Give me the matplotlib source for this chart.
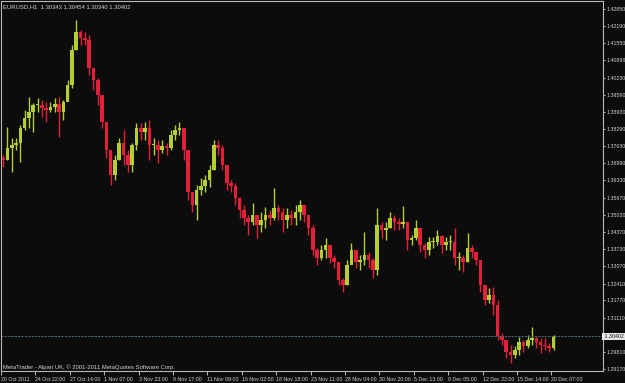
import matplotlib.pyplot as plt
import numpy as np

# EURUSD H1, one candle per 8 hours
first_open = 1.3719
highs = [1.3730, 1.3836, 1.3795, 1.3795, 1.3844, 1.3901, 1.3950, 1.3928, 1.3947, 1.3939,
         1.3931, 1.3931, 1.3947, 1.3950, 1.3939, 1.4015, 1.4148, 1.4243, 1.4205, 1.4197,
         1.4186, 1.4053, 1.4023, 1.3939, 1.3844, 1.3749, 1.3730, 1.3795, 1.3825, 1.3749,
         1.3776, 1.3852, 1.3852, 1.3855, 1.3863, 1.3795, 1.3787, 1.3787, 1.3776, 1.3825,
         1.3844, 1.3855, 1.3833, 1.3749, 1.3578, 1.3616, 1.3643, 1.3654, 1.3692, 1.3787,
         1.3787, 1.3768, 1.3692, 1.3635, 1.3624, 1.3570, 1.3540, 1.3502, 1.3548, 1.3502,
         1.3513, 1.3532, 1.3521, 1.3605, 1.3540, 1.3529, 1.3529, 1.3521, 1.3540, 1.3559,
         1.3540, 1.3491, 1.3464, 1.3377, 1.3388, 1.3415, 1.3369, 1.3350, 1.3323, 1.3263,
         1.3331, 1.3396, 1.3369, 1.3350, 1.3437, 1.3361, 1.3339, 1.3529, 1.3475, 1.3475,
         1.3513, 1.3502, 1.3491, 1.3536, 1.3464, 1.3426, 1.3483, 1.3426, 1.3396, 1.3418,
         1.3418, 1.3445, 1.3426, 1.3418, 1.3426, 1.3453, 1.3361, 1.3350, 1.3434, 1.3388,
         1.3361, 1.3323, 1.3236, 1.3225, 1.3228, 1.3179, 1.3054, 1.3027, 1.3008, 1.3004,
         1.3038, 1.3027, 1.3046, 1.3076, 1.3042, 1.3035, 1.3035, 1.3016, 1.3046]
lows = [1.3684, 1.3711, 1.3665, 1.3749, 1.3703, 1.3825, 1.3833, 1.3817, 1.3893, 1.3874,
        1.3855, 1.3893, 1.3893, 1.3798, 1.3863, 1.3939, 1.3985, 1.4129, 1.4148, 1.4148,
        1.4034, 1.3977, 1.3920, 1.3833, 1.3719, 1.3616, 1.3635, 1.3711, 1.3692, 1.3665,
        1.3665, 1.3749, 1.3787, 1.3787, 1.3711, 1.3730, 1.3700, 1.3738, 1.3730, 1.3749,
        1.3787, 1.3806, 1.3711, 1.3559, 1.3513, 1.3483, 1.3578, 1.3589, 1.3608, 1.3673,
        1.3730, 1.3673, 1.3597, 1.3589, 1.3540, 1.3491, 1.3464, 1.3426, 1.3464, 1.3415,
        1.3437, 1.3453, 1.3464, 1.3483, 1.3483, 1.3437, 1.3453, 1.3464, 1.3464, 1.3483,
        1.3475, 1.3426, 1.3350, 1.3312, 1.3331, 1.3339, 1.3320, 1.3301, 1.3236, 1.3209,
        1.3236, 1.3323, 1.3301, 1.3293, 1.3312, 1.3301, 1.3263, 1.3274, 1.3415, 1.3407,
        1.3453, 1.3445, 1.3445, 1.3453, 1.3369, 1.3388, 1.3407, 1.3361, 1.3339, 1.3350,
        1.3377, 1.3388, 1.3358, 1.3369, 1.3369, 1.3312, 1.3293, 1.3285, 1.3323, 1.3339,
        1.3312, 1.3209, 1.3160, 1.3168, 1.3122, 1.3027, 1.3008, 1.2959, 1.2940, 1.2959,
        1.2970, 1.2981, 1.2997, 1.3008, 1.2997, 1.2978, 1.2989, 1.2981, 1.2989]
closes = [1.3711, 1.3757, 1.3768, 1.3776, 1.3833, 1.3871, 1.3893, 1.3920, 1.3920, 1.3909,
          1.3901, 1.3912, 1.3924, 1.3893, 1.3931, 1.3996, 1.4129, 1.4197, 1.4175, 1.4167,
          1.4061, 1.4015, 1.3958, 1.3855, 1.3749, 1.3654, 1.3711, 1.3776, 1.3730, 1.3692,
          1.3768, 1.3833, 1.3817, 1.3833, 1.3768, 1.3768, 1.3749, 1.3764, 1.3757, 1.3806,
          1.3825, 1.3833, 1.3749, 1.3589, 1.3540, 1.3597, 1.3612, 1.3635, 1.3673, 1.3768,
          1.3757, 1.3692, 1.3624, 1.3612, 1.3567, 1.3521, 1.3491, 1.3475, 1.3502, 1.3464,
          1.3483, 1.3502, 1.3491, 1.3529, 1.3513, 1.3483, 1.3502, 1.3491, 1.3513, 1.3540,
          1.3502, 1.3453, 1.3369, 1.3339, 1.3369, 1.3388, 1.3339, 1.3323, 1.3255, 1.3236,
          1.3312, 1.3369, 1.3323, 1.3331, 1.3350, 1.3331, 1.3293, 1.3464, 1.3445, 1.3453,
          1.3491, 1.3475, 1.3468, 1.3475, 1.3407, 1.3415, 1.3453, 1.3388, 1.3369, 1.3399,
          1.3399, 1.3422, 1.3388, 1.3399, 1.3399, 1.3339, 1.3339, 1.3323, 1.3377, 1.3361,
          1.3331, 1.3236, 1.3179, 1.3198, 1.3160, 1.3042, 1.3027, 1.2981, 1.2970, 1.2989,
          1.3019, 1.3004, 1.3027, 1.3035, 1.3019, 1.3008, 1.3004, 1.2997, 1.30402]

price_ticks = [1.42850, 1.42190, 1.41550, 1.40890, 1.40230, 1.39590, 1.38930, 1.38290,
               1.37630, 1.36990, 1.36330, 1.35670, 1.35030, 1.34370, 1.33730, 1.33070,
               1.32410, 1.31770, 1.31110, 1.29810, 1.29170]
last_price = 1.30402
time_labels = ['20 Oct 2011', '24 Oct 22:00', '27 Oct 14:00', '1 Nov 07:00', '3 Nov 23:00',
               '8 Nov 17:00', '11 Nov 09:00', '16 Nov 02:00', '18 Nov 18:00', '23 Nov 11:00',
               '28 Nov 04:00', '30 Nov 20:00', '5 Dec 13:00', '8 Dec 05:00', '12 Dec 22:00',
               '15 Dec 14:00', '20 Dec 07:00']
hours_per_candle = 8
hours_per_label = 64

bg = '#0b0c0b'
fg = '#d4d4d4'
up_col = '#b2cf34'
dn_col = '#e3203a'
font = 'Liberation Sans'
fs = 3.8

highs = np.array(highs)
lows = np.array(lows)
closes = np.array(closes)
opens = np.concatenate([[first_open], closes[:-1]])
x = np.arange(len(closes)) * hours_per_candle + hours_per_candle / 2
colors = np.where(closes >= opens, up_col, dn_col)

fig = plt.figure(figsize=(6.25, 3.83), dpi=100, facecolor=bg)
ax = fig.add_axes([1 / 625, 12 / 383, 602 / 625, 370 / 383], facecolor=bg)

ax.vlines(x, lows, highs, colors=colors, linewidth=1.0)
body = np.where(np.abs(closes - opens) < 0.0003, 0.0003, closes - opens)
ax.bar(x, body, bottom=opens, width=hours_per_candle * 0.85, color=colors, linewidth=0)

ax.axhline(last_price, color='#4b6272', linewidth=0.8, linestyle=(0, (2, 1)))

ax.set_xlim(0, 1120)
ax.set_ylim(1.2909, 1.4315)

ax.yaxis.tick_right()
ax.set_yticks(price_ticks)
ax.set_yticklabels([f'{p:.5f}' for p in price_ticks])
ax.tick_params(axis='y', colors=fg, labelsize=fs, length=1.5, width=0.6, pad=0.8)
ax.set_xticks(np.arange(len(time_labels)) * hours_per_label)
ax.set_xticklabels(time_labels, ha='left')
ax.tick_params(axis='x', colors=fg, labelsize=fs, length=3, width=0.6, pad=1.5)
for lab in ax.get_xticklabels() + ax.get_yticklabels():
    lab.set_family(font)

for s in ax.spines.values():
    s.set_color('#b8b8b8')
    s.set_linewidth(0.8)

# current price marker
ax.text(1.0, last_price, f' {last_price:.5f}', transform=ax.get_yaxis_transform(),
        ha='left', va='center', fontsize=fs, color='#101010', family=font,
        bbox=dict(boxstyle='square,pad=0.15', facecolor='#e8e8e8', edgecolor='none'))

ax.text(0.004, 0.99, 'EURUSD,H1  1.30343 1.30454 1.30340 1.30402', transform=ax.transAxes,
        ha='left', va='top', fontsize=4.2, color=fg, family=font)
ax.text(0.004, 0.003, 'MetaTrader - Alpari UK, © 2001-2011 MetaQuotes Software Corp.',
        transform=ax.transAxes, ha='left', va='bottom', fontsize=4.2, color=fg, family=font)

fig.savefig('out.png', dpi=100, facecolor=bg)
